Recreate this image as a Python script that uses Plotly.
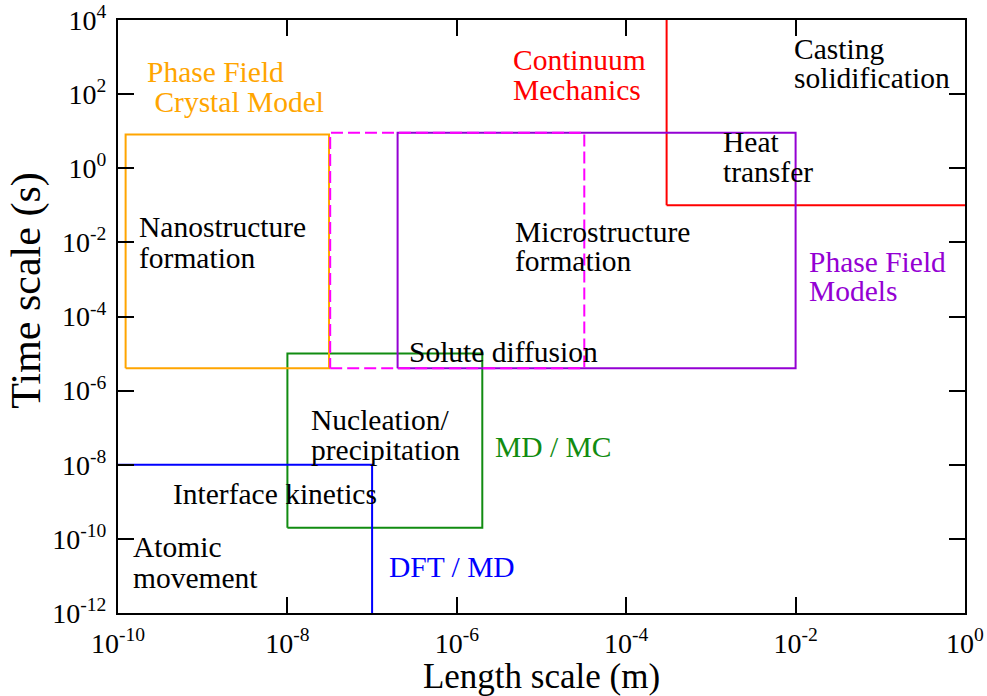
import numpy as np
import plotly.graph_objects as go

# Modelling regimes: spatial range (m) and temporal range (s) of each method
box_names = ["Continuum Mechanics", "MD / MC", "DFT / MD",
             "Phase Field Crystal Model", "Phase Field Models", "Phase Field (extended)"]
x_lo = [3.0e-4, 1.0e-8, 1.0e-11, 1.23e-10, 2.0e-7, 3.2e-8]
x_hi = [10.0, 2.0e-6, 1.0e-7, 3.1e-8, 1.0e-2, 3.2e-5]
t_lo = [0.1, 2.0e-10, 1.0e-13, 4.0e-6, 4.0e-6, 4.0e-6]
t_hi = [1.0e5, 1.0e-5, 1.0e-8, 8.2, 9.1, 9.1]
box_colors = ["#ff0000", "#118c11", "#0000ff", "#ffa500", "#9400d3", "#ff00ff"]
box_dash = ["solid", "solid", "solid", "solid", "solid", "12px,5px"]

# Text labels (one entry per line of text), placed by log10 of the axis values
label_text = ["Phase Field", " Crystal Model", "Continuum", "Mechanics",
              "Casting", "solidification", "Heat", "transfer",
              "Nanostructure", "formation", "Microstructure", "formation",
              "Phase Field", "Models", "Solute diffusion",
              "Nucleation/", "precipitation", "MD / MC",
              "Interface kinetics", "Atomic", "movement", "DFT / MD"]
label_color = ["#ffa500", "#ffa500", "#ff0000", "#ff0000",
               "black", "black", "black", "black",
               "black", "black", "black", "black",
               "#9400d3", "#9400d3", "black",
               "black", "black", "#118c11",
               "black", "black", "black", "#0000ff"]
label_logx = [-9.676, -9.676, -5.355, -5.355,
              -2.037, -2.037, -2.875, -2.875,
              -9.770, -9.770, -5.331, -5.331,
              -1.860, -1.860, -6.583,
              -7.740, -7.740, -5.567,
              -9.369, -9.841, -9.841, -6.819]
label_logy = [2.597, 1.787, 2.921, 2.111,
              3.217, 2.435, 0.708, -0.101,
              -1.586, -2.422, -1.720, -2.503,
              -2.530, -3.312, -4.958,
              -6.793, -7.603, -7.522,
              -8.790, -10.220, -11.057, -10.760]

x_tickvals = [1e-10, 1e-8, 1e-6, 1e-4, 1e-2, 1e0]
x_ticktext = ["10<sup>-10</sup>", "10<sup>-8</sup>", "10<sup>-6</sup>",
              "10<sup>-4</sup>", "10<sup>-2</sup>", "10<sup>0</sup>"]
y_tickvals = [1e-12, 1e-10, 1e-8, 1e-6, 1e-4, 1e-2, 1e0, 1e2, 1e4]
y_ticktext = ["10<sup>-12</sup>", "10<sup>-10</sup>", "10<sup>-8</sup>",
              "10<sup>-6</sup>", "10<sup>-4</sup>", "10<sup>-2</sup>",
              "10<sup>0</sup>", "10<sup>2</sup>", "10<sup>4</sup>"]

FONT = "Liberation Serif"

fig = go.Figure()
for name, a, b, c, d, col, dash in zip(box_names, x_lo, x_hi, t_lo, t_hi, box_colors, box_dash):
    fig.add_trace(go.Scatter(
        x=[a, b, b, a, a], y=[c, c, d, d, c], mode="lines", name=name,
        line=dict(color=col, width=2, dash=dash), hoverinfo="name",
        showlegend=False))

for txt, col, lx, ly in zip(label_text, label_color, label_logx, label_logy):
    fig.add_annotation(x=lx, y=ly, xref="x", yref="y", text=txt, showarrow=False,
                       xanchor="left", yanchor="middle",
                       font=dict(family=FONT, size=29.5, color=col))

# vertical axis title
fig.add_annotation(x=-0.109, y=0.543, xref="paper", yref="paper",
                   text="Time scale (s)", textangle=-90, showarrow=False,
                   xanchor="center", yanchor="middle",
                   font=dict(family=FONT, size=42, color="black"))

axis_common = dict(
    type="log", showgrid=False, zeroline=False,
    showline=True, linecolor="black", linewidth=2, mirror="ticks",
    ticks="inside", ticklen=16, tickwidth=1.5, tickcolor="black",
    tickfont=dict(family=FONT, size=28, color="black"),
)

fig.update_xaxes(range=[-10, 0], tickvals=x_tickvals, ticktext=x_ticktext,
                 title=dict(text="Length scale (m)", standoff=4,
                            font=dict(family=FONT, size=35, color="black")),
                 ticklabelstandoff=4, **axis_common)
fig.update_yaxes(range=[-12, 4], tickvals=y_tickvals, ticktext=y_ticktext,
                 ticklabelstandoff=4, **axis_common)

fig.update_layout(
    width=987, height=696,
    margin=dict(l=118, r=22, t=20, b=83, autoexpand=False),
    plot_bgcolor="white", paper_bgcolor="white",
    font=dict(family=FONT, color="black"),
)

fig.write_html("out.html")
